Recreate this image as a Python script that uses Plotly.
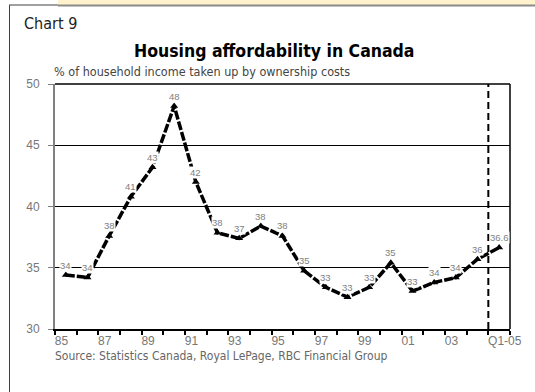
import plotly.graph_objects as go

# ---- data ----
categories = ["85", "86", "87", "88", "89", "90", "91", "92", "93", "94", "95",
              "96", "97", "98", "99", "00", "01", "02", "03", "04", "Q1-05"]
values = [34.4, 34.2, 37.6, 40.8, 43.2, 48.2, 42.0, 37.85, 37.4, 38.4, 37.6,
          34.75, 33.4, 32.6, 33.4, 35.4, 33.1, 33.8, 34.2, 35.7, 36.65]
value_labels = ["34", "34", "38", "41", "43", "48", "42", "38", "37", "38", "38",
                "35", "33", "33", "33", "35", "33", "34", "34", "36", "36.6"]
tick_labels = ["85", "87", "89", "91", "93", "95", "97", "99", "01", "03", "Q1-05"]
y_ticks = [30, 35, 40, 45, 50]

W, H = 535, 392
ML, MR, MT, MB = 55, 25, 84, 63
PW, PH = W - ML - MR, H - MT - MB

def px(x):
    return (x - ML) / PW

def py(y):
    return (H - MB - y) / PH

NARROW = "DejaVu Sans Condensed, Liberation Sans Narrow, sans-serif"
REG = "Liberation Sans, Arial, sans-serif"

xs = list(range(len(categories)))

fig = go.Figure()
fig.add_trace(go.Scatter(
    x=xs, y=values, mode="lines+markers",
    line=dict(color="black", width=3.5, dash="9px,2px"),
    marker=dict(symbol="triangle-up", size=7, color="black"),
    hoverinfo="skip", showlegend=False, cliponaxis=False,
))

annotations = []
for x, v, t in zip(xs, values, value_labels):
    annotations.append(dict(x=x, y=v, text=t, showarrow=False, yshift=10,
                            font=dict(family=REG, size=9.5, color="#808080"),
                            bgcolor="white", borderpad=0))

tick_positions = [categories.index(c) - 0.5 for c in tick_labels]

annotations += [
    dict(xref="paper", yref="paper", x=px(22), y=py(24), text="Chart 9",
         showarrow=False, xanchor="left", yanchor="middle",
         font=dict(family=NARROW, size=16, color="#222222")),
    dict(xref="paper", yref="paper", x=px(274), y=py(51),
         text="<b>Housing affordability in Canada</b>",
         showarrow=False, xanchor="center", yanchor="middle",
         font=dict(family=NARROW, size=17.5, color="black")),
    dict(xref="paper", yref="paper", x=px(52), y=py(71),
         text="% of household income taken up by ownership costs",
         showarrow=False, xanchor="left", yanchor="middle",
         font=dict(family=NARROW, size=12.5, color="#444444")),
    dict(xref="paper", yref="paper", x=px(53), y=py(356),
         text="Source: Statistics Canada, Royal LePage, RBC Financial Group",
         showarrow=False, xanchor="left", yanchor="middle",
         font=dict(family=NARROW, size=12, color="#666666")),
]

shapes = [
    # page frame
    dict(type="rect", xref="paper", yref="paper", x0=px(58), x1=px(536),
         y0=py(0), y1=py(5), fillcolor="#FFF2CC", line=dict(width=0), layer="below"),
    dict(type="line", xref="paper", yref="paper", x0=px(58), x1=px(536),
         y0=py(5.5), y1=py(5.5), line=dict(color="#8a8a8a", width=2)),
    dict(type="line", xref="paper", yref="paper", x0=px(9), x1=px(58),
         y0=py(5), y1=py(5), line=dict(color="#404040", width=1)),
    dict(type="line", xref="paper", yref="paper", x0=px(9.5), x1=px(9.5),
         y0=py(5), y1=py(393), line=dict(color="#404040", width=1)),
    # plot border top & right
    dict(type="line", xref="paper", yref="paper", x0=0, x1=1, y0=1, y1=1,
         line=dict(color="black", width=1.5)),
    dict(type="line", xref="paper", yref="paper", x0=1, x1=1, y0=0, y1=1,
         line=dict(color="black", width=1.5)),
    # vertical dashed line
    dict(type="line", xref="x", yref="y", x0=19.5, x1=19.5, y0=30, y1=50,
         line=dict(color="black", width=2, dash="7px,4px")),
]

fig.update_layout(
    width=W, height=H,
    margin=dict(l=ML, r=MR, t=MT, b=MB),
    paper_bgcolor="white", plot_bgcolor="white",
    annotations=annotations, shapes=shapes,
    xaxis=dict(range=[-0.5, len(categories) - 0.5], showgrid=False, zeroline=False,
               tickmode="array", tickvals=tick_positions, ticktext=tick_labels,
               ticks="outside", ticklen=4, tickcolor="black", tickwidth=1.5,
               ticklabelposition="outside right", ticklabelshift=-2,
               minor=dict(tickmode="linear", tick0=-0.5, dtick=1, ticks="outside",
                          ticklen=4, tickcolor="black", tickwidth=1.5, showgrid=False),
               showline=True, linecolor="black", linewidth=2,
               tickfont=dict(family=REG, size=12, color="#777777")),
    yaxis=dict(range=[30, 50], tickvals=y_ticks, showgrid=True, gridcolor="black",
               gridwidth=1, zeroline=False, showline=True, linecolor="#808080",
               linewidth=2, ticks="outside", ticklen=5, tickcolor="#808080",
               tickfont=dict(family=REG, size=12, color="#777777"),
               ticklabelstandoff=6),
)

fig.write_html("out.html", config={"displayModeBar": False},
               post_script="document.body.style.margin='0';"
                           "document.body.style.overflow='hidden';"
                           "document.documentElement.style.overflow='hidden';")
